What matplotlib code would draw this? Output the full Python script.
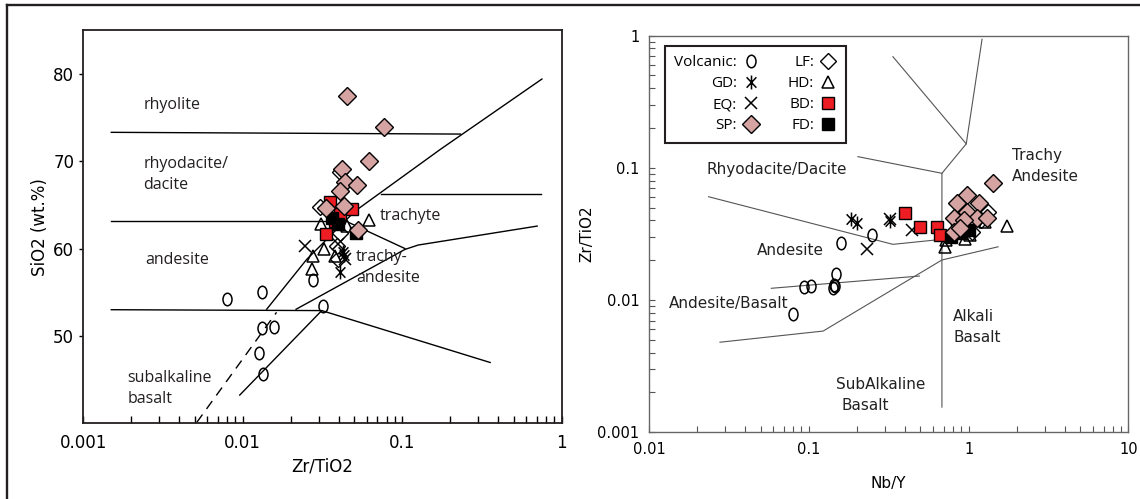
import matplotlib
matplotlib.use("Agg")
import matplotlib.pyplot as plt
import numpy as np
from matplotlib.path import Path
from matplotlib.lines import Line2D
from matplotlib.ticker import FixedLocator, LogLocator, NullFormatter

# ---- left panel: SiO2 vs Zr/TiO2 ----
volc_l_x = [0.00795, 0.0132, 0.0132, 0.0157, 0.01265, 0.0135, 0.0317, 0.0274]
volc_l_y = [54.2, 55.0, 50.85, 51.07, 48.0, 45.63, 53.43, 56.4]
gd_l_x = [0.0405, 0.0432, 0.0427]
gd_l_y = [57.3, 59.3, 59.6]
eq_l_x = [0.0246, 0.0395, 0.0437]
eq_l_y = [60.3, 60.5, 58.8]
sp_l_x = [0.0453, 0.0769, 0.0617, 0.0418, 0.0440, 0.0519, 0.0407, 0.0333, 0.0432, 0.0526]
sp_l_y = [77.4, 73.87, 70.0, 69.1, 67.6, 67.3, 66.56, 64.66, 64.85, 62.1]
lf_l_x = [0.0409, 0.0398, 0.0305, 0.041, 0.0388]
lf_l_y = [61.8, 58.8, 64.7, 68.8, 60.3]
hd_l_x = [0.0274, 0.0271, 0.0324, 0.0377, 0.0621, 0.0311, 0.0453]
hd_l_y = [59.1, 57.7, 60.0, 59.2, 63.25, 62.8, 62.6]
bd_l_x = [0.0352, 0.0482, 0.0333, 0.0378, 0.0407]
bd_l_y = [65.3, 64.5, 61.65, 63.1, 63.9]
fd_l_x = [0.0365, 0.0395, 0.0512]
fd_l_y = [63.5, 62.8, 61.8]

# field boundaries (Zr/TiO2, SiO2)
left_lines = [
    ([0.0015, 0.232], [73.3, 73.1]),
    ([0.0015, 0.044], [63.2, 63.2]),
    ([0.0736, 0.74], [66.2, 66.2]),
    ([0.0015, 0.0313], [53.0, 52.9]),
    ([0.01413, 0.0252, 0.0506, 0.1726, 0.752], [53.05, 58.76, 64.28, 71.32, 79.4]),
    ([0.046, 0.104], [63.0, 60.0]),
    ([0.0216, 0.104, 0.126, 0.702], [53.05, 59.9, 60.4, 62.57]),
    ([0.00958, 0.0313, 0.356], [43.23, 52.9, 46.96]),
]
dash_x = [0.00515, 0.0163]
dash_y = [40.1, 52.7]

left_labels = [
    ("rhyolite", 0.0024, 76.46), ("rhyodacite/", 0.00239, 69.7), ("dacite", 0.00239, 67.3),
    ("andesite", 0.00245, 58.65), ("trachyte", 0.0726, 63.7), ("trachy-", 0.0512, 59.0),
    ("andesite", 0.0512, 56.67), ("subalkaline", 0.0019, 45.14), ("basalt", 0.0019, 42.8),
]

# ---- right panel: Zr/TiO2 vs Nb/Y ----
volc_r_x = [0.160, 0.249, 0.1486, 0.1436, 0.142, 0.146, 0.0933, 0.1038, 0.0802]
volc_r_y = [0.0272, 0.0311, 0.0157, 0.0130, 0.0124, 0.0128, 0.0125, 0.0128, 0.0078]
gd_r_x = [0.1845, 0.199, 0.324, 1.0]
gd_r_y = [0.0408, 0.0385, 0.0399, 0.034]
eq_r_x = [0.232, 0.443, 0.324]
eq_r_y = [0.0242, 0.0339, 0.041]
sp_r_x = [1.43, 0.977, 0.847, 1.155, 0.977, 0.806, 1.127, 1.30, 0.931, 0.806, 0.887]
sp_r_y = [0.0764, 0.0624, 0.054, 0.054, 0.0466, 0.0416, 0.0416, 0.0416, 0.0404, 0.0329, 0.0349]
lf_r_x = [1.33, 0.93, 1.05, 1.2]
lf_r_y = [0.0466, 0.036, 0.033, 0.04]
hd_r_x = [1.74, 0.708, 0.72, 1.025, 1.27, 0.95]
hd_r_y = [0.0363, 0.0253, 0.0285, 0.031, 0.039, 0.029]
bd_r_x = [0.398, 0.500, 0.635, 0.666]
bd_r_y = [0.0458, 0.0355, 0.0355, 0.031]
fd_r_x = [0.78, 0.9, 1.0, 0.85]
fd_r_y = [0.030, 0.032, 0.034, 0.036]

right_lines = [
    ([0.336, 0.967, 0.681, 0.681], [0.694, 0.152, 0.091, 0.00155]),
    ([0.967, 1.214], [0.152, 0.939]),
    ([0.203, 0.681], [0.1216, 0.091]),
    ([0.0236, 0.336, 0.681], [0.0605, 0.0264, 0.0288]),
    ([0.0278, 0.123, 0.681, 1.53], [0.0048, 0.00583, 0.0201, 0.0253]),
    ([0.0583, 0.492], [0.01228, 0.0152]),
]

right_labels = [
    ("Rhyodacite/Dacite", 0.0230, 0.098), ("Andesite", 0.0472, 0.0239),
    ("Andesite/Basalt", 0.01333, 0.00946), ("Trachy", 1.87, 0.123), ("Andesite", 1.87, 0.0858),
    ("Alkali", 0.803, 0.00749), ("Basalt", 0.803, 0.0052),
    ("SubAlkaline", 0.148, 0.00228), ("Basalt", 0.160, 0.00159),
]

legend_labels = ["Volcanic:", "GD:", "EQ:", "SP:", "LF:", "HD:", "BD:", "FD:"]

# marker shapes
circ = Path.unit_circle()
o_marker = Path(circ.vertices * [0.72, 1.0], circ.codes)
ast_marker = Path([(0, -1), (0, 1), (-0.7, -0.75), (0.7, 0.75), (-0.7, 0.75), (0.7, -0.75)],
                  [Path.MOVETO, Path.LINETO, Path.MOVETO, Path.LINETO, Path.MOVETO, Path.LINETO])

pink = '#d6a3a3'
red = '#ee1d23'

styles = {
    'volc': dict(marker=o_marker, ms=9, mfc='none', mec='k', mew=1.1),
    'gd': dict(marker=ast_marker, ms=10, mfc='none', mec='k', mew=1.1),
    'eq': dict(marker='x', ms=8.5, mec='k', mew=1.1),
    'sp': dict(marker='D', ms=9, mfc=pink, mec='k', mew=1.0),
    'lf': dict(marker='D', ms=8.5, mfc='white', mec='k', mew=1.0),
    'hd': dict(marker='^', ms=9, mfc='none', mec='k', mew=1.1),
    'bd': dict(marker='s', ms=9, mfc=red, mec='k', mew=1.0),
    'fd': dict(marker='s', ms=8, mfc='k', mec='k', mew=1.0),
}
zord = {'volc': 3, 'gd': 4, 'eq': 4, 'lf': 3, 'hd': 4, 'bd': 5, 'fd': 5, 'sp': 6}

fig = plt.figure(figsize=(11.4, 4.99), dpi=100)
fig.add_artist(Line2D([0.006, 1.0], [0.989, 0.989], color='#231f20', lw=1.7))
fig.add_artist(Line2D([0.006, 0.006], [0.0, 0.989], color='#231f20', lw=1.7))

ax1 = fig.add_axes([0.073, 0.1517, 0.4197, 0.788])
ax2 = fig.add_axes([0.5693, 0.1337, 0.4205, 0.7948])

# left panel
for xs, ys in left_lines:
    ax1.plot(xs, ys, color='k', lw=1.0, zorder=2)
ax1.plot(dash_x, dash_y, color='k', lw=1.0, dashes=(7, 5), zorder=2)
left_sets = [('volc', volc_l_x, volc_l_y), ('gd', gd_l_x, gd_l_y), ('eq', eq_l_x, eq_l_y),
             ('lf', lf_l_x, lf_l_y), ('hd', hd_l_x, hd_l_y), ('bd', bd_l_x, bd_l_y),
             ('fd', fd_l_x, fd_l_y), ('sp', sp_l_x, sp_l_y)]
for key, xs, ys in left_sets:
    ax1.plot(xs, ys, ls='none', zorder=zord[key], **styles[key])
for txt, x, y in left_labels:
    ax1.text(x, y, txt, ha='left', va='center', fontsize=11.5, family='Open Sans', color='#231f20')

ax1.set_xscale('log')
ax1.set_xlim(0.001, 1)
ax1.set_ylim(40, 85)
ax1.xaxis.set_major_locator(FixedLocator([0.001, 0.01, 0.1, 1]))
ax1.set_xticklabels(['0.001', '0.01', '0.1', '1'])
ax1.xaxis.set_minor_locator(LogLocator(base=10, subs=np.arange(2, 10)))
ax1.xaxis.set_minor_formatter(NullFormatter())
ax1.set_yticks([50, 60, 70, 80])
ax1.tick_params(axis='x', which='both', direction='in', length=5, width=1, labelsize=12, pad=8)
ax1.tick_params(axis='y', direction='out', length=3, width=1, labelsize=12)
ax1.set_xlabel('Zr/TiO2', fontsize=12, labelpad=4)
ax1.set_ylabel('SiO2 (wt.%)', fontsize=12, labelpad=3)
for s in ax1.spines.values():
    s.set_linewidth(1.3)
    s.set_color('#231f20')

# right panel
for xs, ys in right_lines:
    ax2.plot(xs, ys, color='#555555', lw=0.8, zorder=2)
right_sets = [('volc', volc_r_x, volc_r_y), ('gd', gd_r_x, gd_r_y), ('eq', eq_r_x, eq_r_y),
              ('sp', sp_r_x, sp_r_y), ('lf', lf_r_x, lf_r_y), ('hd', hd_r_x, hd_r_y),
              ('bd', bd_r_x, bd_r_y), ('fd', fd_r_x, fd_r_y)]
handles = []
for (key, xs, ys), lab in zip(right_sets, legend_labels):
    h, = ax2.plot(xs, ys, ls='none', zorder=zord[key], label=lab, **styles[key])
    handles.append(h)
for txt, x, y in right_labels:
    ax2.text(x, y, txt, ha='left', va='center', fontsize=11, color='#222222')

ax2.set_xscale('log')
ax2.set_yscale('log')
ax2.set_xlim(0.01, 10)
ax2.set_ylim(0.001, 1)
ax2.xaxis.set_major_locator(FixedLocator([0.01, 0.1, 1, 10]))
ax2.set_xticklabels(['0.01', '0.1', '1', '10'])
ax2.yaxis.set_major_locator(FixedLocator([0.001, 0.01, 0.1, 1]))
ax2.set_yticklabels(['0.001', '0.01', '0.1', '1'])
for a in (ax2.xaxis, ax2.yaxis):
    a.set_minor_locator(LogLocator(base=10, subs=np.arange(2, 10)))
    a.set_minor_formatter(NullFormatter())
ax2.tick_params(which='both', direction='in', length=4, width=0.8, color='#555555',
                labelsize=10.5, pad=7)
ax2.set_xlabel('Nb/Y', fontsize=11, labelpad=14)
ax2.set_ylabel('Zr/TiO2', fontsize=11, labelpad=2)
for s in ax2.spines.values():
    s.set_linewidth(1.0)
    s.set_color('#666666')

leg = ax2.legend(handles=handles, labels=legend_labels, ncol=2, markerfirst=False,
                 loc='upper left', bbox_to_anchor=(0.034, 0.974), borderaxespad=0,
                 fancybox=False, edgecolor='#231f20', framealpha=1, handlelength=1.2,
                 handletextpad=0.3, columnspacing=1.8, labelspacing=0.4, borderpad=0.6,
                 prop={'family': 'Open Sans', 'size': 11})
leg.get_frame().set_linewidth(1.5)

fig.savefig('out.png', dpi=100)
